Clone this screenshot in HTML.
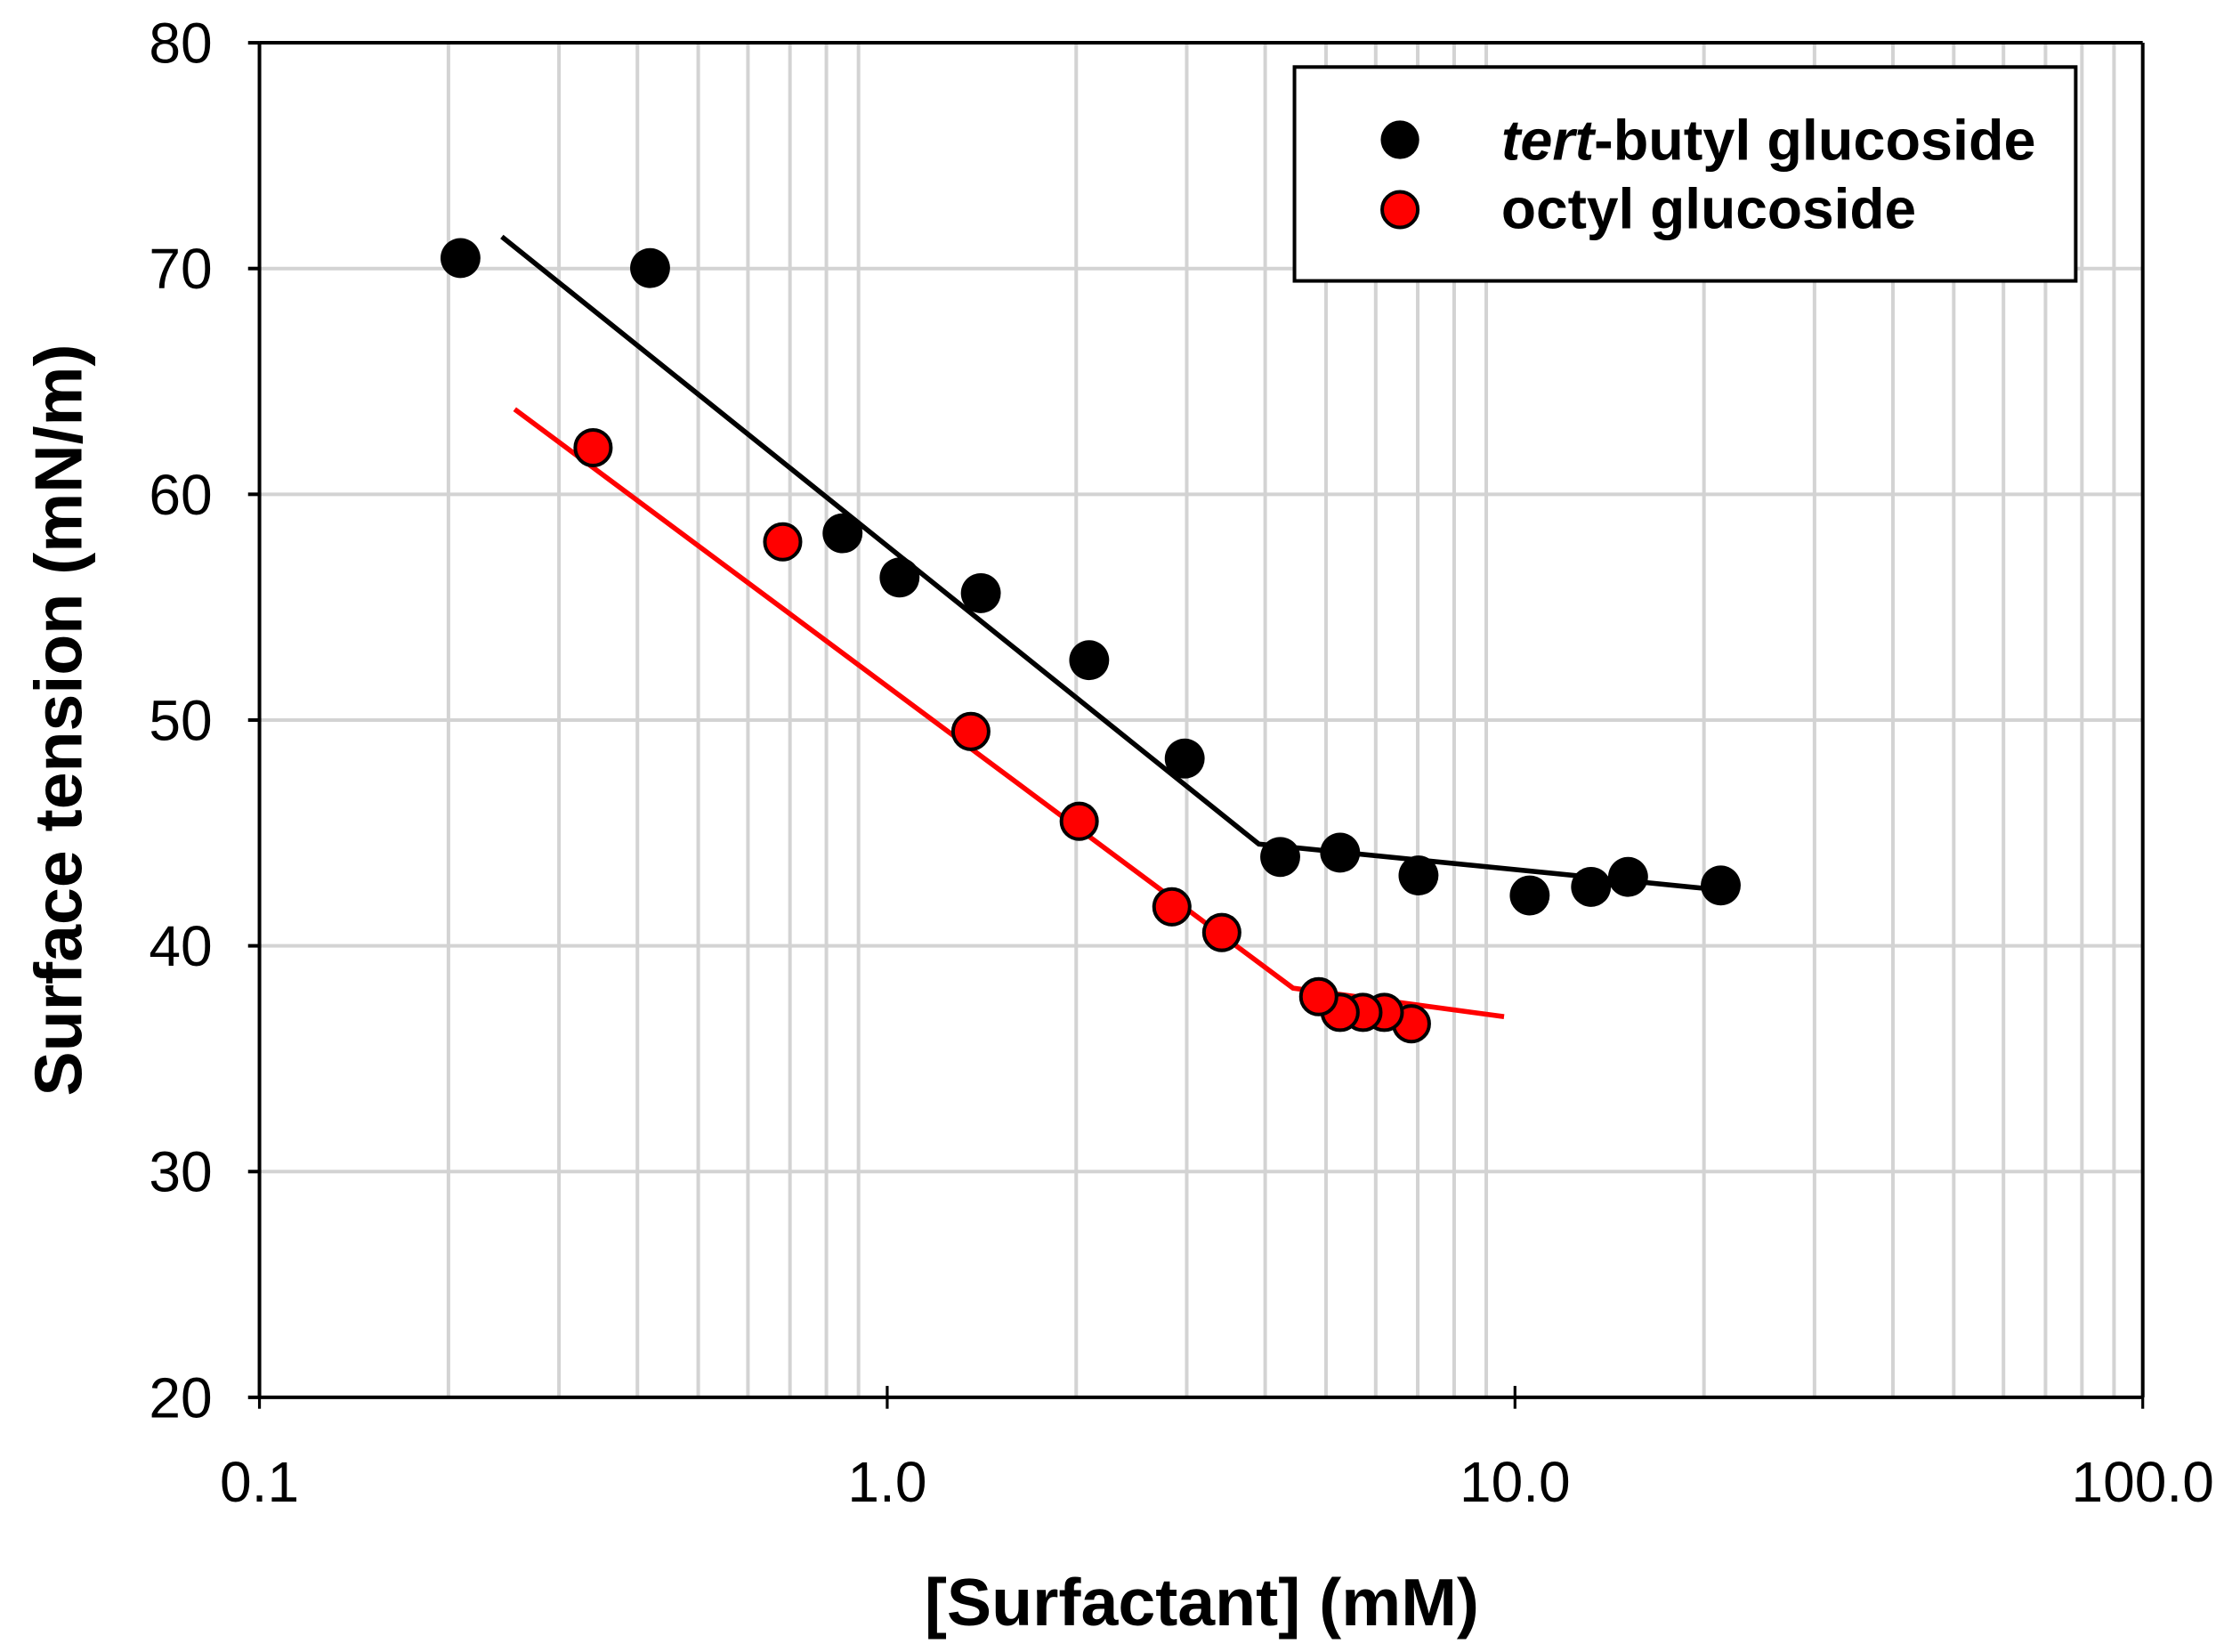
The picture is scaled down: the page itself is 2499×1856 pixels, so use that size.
<!DOCTYPE html>
<html><head><meta charset="utf-8"><style>html,body{margin:0;padding:0;background:#fff}svg{display:block}</style></head>
<body>
<svg width="2499" height="1856" viewBox="0 0 1560 1158.6" preserveAspectRatio="none" xmlns="http://www.w3.org/2000/svg" font-family="Liberation Sans, Arial, sans-serif">
<rect width="1560" height="1158.6" fill="#fff"/>
<g stroke="#d3d3d3" stroke-width="2.5" id="grid"></g>
<g id="ax"></g>
<!-- legend -->
<rect x="908" y="47" width="548" height="150" fill="#fff" stroke="#000" stroke-width="2.5"/>
<circle cx="982" cy="98" r="13.5" fill="#000"/>
<circle cx="982" cy="147" r="12.5" fill="#f00" stroke="#000" stroke-width="2.5"/>
<text x="1053" y="112" font-size="40" font-weight="bold" textLength="375" lengthAdjust="spacingAndGlyphs"><tspan font-style="italic">tert</tspan>-butyl glucoside</text>
<text x="1053" y="160" font-size="40" font-weight="bold">octyl glucoside</text>
<!-- lines -->
<polyline points="352,166 883,592 1195,623" fill="none" stroke="#000" stroke-width="3.5"/>
<polyline points="361,287 907,693 1055,713" fill="none" stroke="#f00" stroke-width="3.5"/>
<g fill="#000">
<circle cx="323" cy="181" r="14"/><circle cx="456" cy="188" r="14"/><circle cx="591" cy="374" r="14"/><circle cx="631" cy="405" r="14"/><circle cx="688" cy="416" r="14"/><circle cx="764" cy="463" r="14"/><circle cx="831" cy="532" r="14"/><circle cx="898" cy="601" r="14"/><circle cx="940" cy="598" r="14"/><circle cx="995" cy="614" r="14"/><circle cx="1073" cy="628" r="14"/><circle cx="1116" cy="622" r="14"/><circle cx="1142" cy="615" r="14"/><circle cx="1207" cy="621" r="14"/>
</g>
<g fill="#f00" stroke="#000" stroke-width="2.5">
<circle cx="416" cy="314" r="12.5"/><circle cx="549" cy="380" r="12.5"/><circle cx="681" cy="513" r="12.5"/><circle cx="757" cy="576" r="12.5"/><circle cx="822" cy="636" r="12.5"/><circle cx="857" cy="654" r="12.5"/><circle cx="990" cy="718" r="12.5"/><circle cx="971" cy="710" r="12.5"/><circle cx="956" cy="710" r="12.5"/><circle cx="940" cy="710" r="12.5"/><circle cx="925" cy="699" r="12.5"/>
</g>
<text x="843" y="1140" font-size="47" font-weight="bold" text-anchor="middle">[Surfactant] (mM)</text>
<text transform="translate(57,505) rotate(-90)" font-size="47" font-weight="bold" text-anchor="middle">Surface tension (mN/m)</text>
<script>
var X0=182,X1=1503,Y0=30,Y1=980,D=(X1-X0)/3;
var g=document.getElementById('grid'),a=document.getElementById('ax'),ns='http://www.w3.org/2000/svg';
function el(p,t,o){var e=document.createElementNS(ns,t);for(var k in o)e.setAttribute(k,o[k]);p.appendChild(e);return e;}
for(var d=0;d<3;d++)for(var m=2;m<=9;m++){var x=X0+(d+Math.log10(m))*D;el(g,'line',{x1:x,x2:x,y1:Y0,y2:Y1});}
for(var v=30;v<=70;v+=10){var y=Y1-(v-20)*(Y1-Y0)/60;el(g,'line',{x1:X0,x2:X1,y1:y,y2:y});}
el(a,'line',{x1:X0,x2:X1,y1:Y0,y2:Y0,stroke:'#000','stroke-width':2.5});
el(a,'line',{x1:X0,x2:X0,y1:Y0,y2:Y1,stroke:'#000','stroke-width':2.5});
el(a,'line',{x1:X0,x2:X1,y1:Y1,y2:Y1,stroke:'#000','stroke-width':2.5});
el(a,'line',{x1:X1,x2:X1,y1:Y0,y2:Y1,stroke:'#000','stroke-width':2.5});
for(var v=20;v<=80;v+=10){var y=Y1-(v-20)*(Y1-Y0)/60;el(a,'line',{x1:X0-8,x2:X0,y1:y,y2:y,stroke:'#000','stroke-width':2.5});var t=el(a,'text',{x:X0-33,y:y+14,'font-size':40,'text-anchor':'end'});t.textContent=v;}
var L=['0.1','1.0','10.0','100.0'];
for(var d=0;d<4;d++){var x=X0+d*D;el(a,'line',{x1:x,x2:x,y1:Y1-8,y2:Y1+8,stroke:'#000','stroke-width':2});var t=el(a,'text',{x:x,y:Y1+73,'font-size':40,'text-anchor':'middle'});t.textContent=L[d];}
</script>
</svg>
</body></html>
